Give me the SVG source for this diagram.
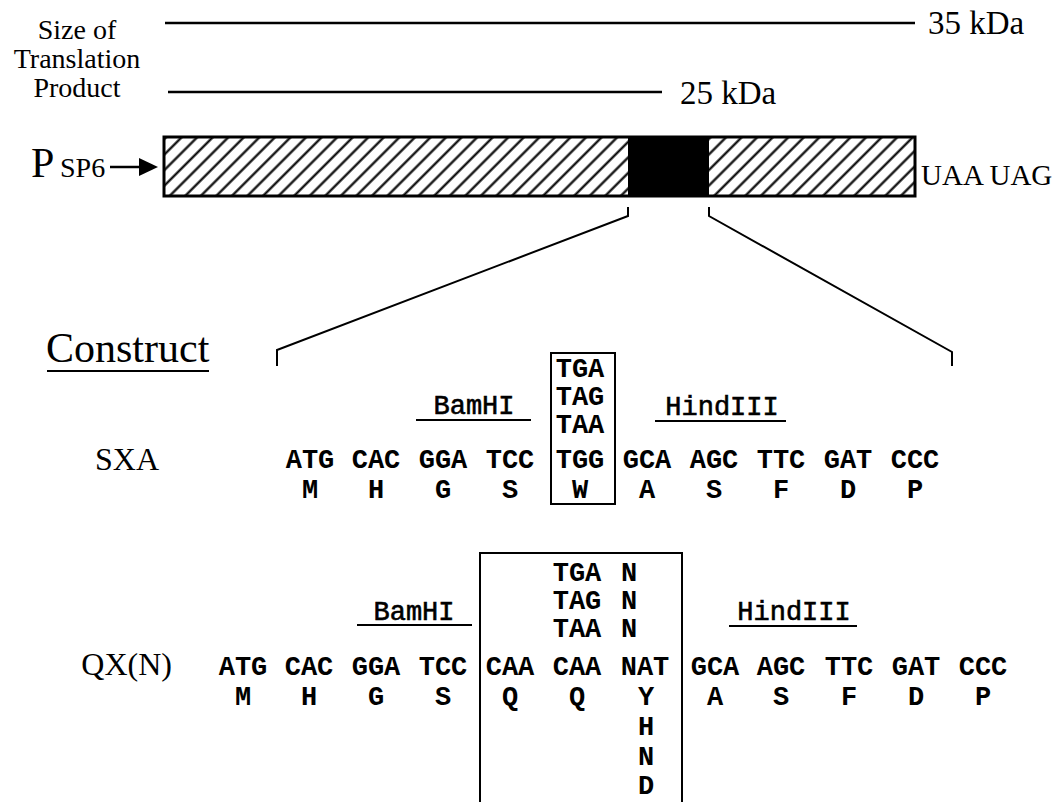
<svg xmlns="http://www.w3.org/2000/svg" width="1056" height="802" viewBox="0 0 1056 802">
<style>
.serif{font-family:"Liberation Serif","Times New Roman",serif;fill:#000}
.cod{font-family:"Liberation Mono","Courier New",monospace;font-weight:bold;font-size:27px;fill:#000;text-anchor:middle}
.codl{font-family:"Liberation Mono","Courier New",monospace;font-weight:bold;font-size:27px;fill:#000}
.re{font-family:"Liberation Mono","Courier New",monospace;font-size:27px;fill:#000;stroke:#000;stroke-width:0.6;text-anchor:middle}
.ln{stroke:#000;stroke-width:2.5;fill:none}
.thin{stroke:#000;stroke-width:2;fill:none}
</style>
<defs>
<pattern id="hatch" width="11" height="11" patternUnits="userSpaceOnUse" patternTransform="rotate(45)">
<line x1="5.5" y1="0" x2="5.5" y2="11" stroke="#000" stroke-width="2.2"/>
</pattern>
</defs>

<g id="size-label">
<text class="serif" x="77" y="39" font-size="28" text-anchor="middle">Size of</text>
<text class="serif" x="77" y="68" font-size="28" text-anchor="middle">Translation</text>
<text class="serif" x="77" y="97" font-size="28" text-anchor="middle">Product</text>
</g>

<g id="size-35">
<line class="ln" x1="165" y1="23" x2="915" y2="23"/>
<text class="serif" x="928" y="34" font-size="33">35 kDa</text>
</g>
<g id="size-25">
<line class="ln" x1="168" y1="92" x2="662" y2="92"/>
<text class="serif" x="680" y="104" font-size="33">25 kDa</text>
</g>

<g id="promoter">
<text class="serif" x="31" y="177" font-size="42">P</text>
<text class="serif" x="60" y="177" font-size="28">SP6</text>
<line class="ln" x1="110" y1="167" x2="142" y2="167"/>
<polygon points="139,158 158,167 139,176" fill="#000"/>
</g>

<g id="gene-bar">
<rect x="164" y="137" width="751" height="59" fill="url(#hatch)" stroke="#000" stroke-width="3"/>
<rect x="628" y="137" width="81" height="59" fill="#000"/>
<text class="serif" x="921" y="185" font-size="29">UAA UAG</text>
</g>

<g id="connectors">
<polyline class="thin" points="628,207 628,216 277,350 277,366"/>
<polyline class="thin" points="709,207 709,216 952,352 952,366"/>
</g>

<g id="construct-title">
<text class="serif" x="46" y="362" font-size="42">Construct</text>
<line class="thin" x1="47" y1="371" x2="209" y2="371"/>
</g>

<g id="sxa">
<text class="serif" x="95" y="470" font-size="32">SXA</text>
<text class="re" x="474" y="414">BamHI</text>
<line class="thin" x1="416" y1="420" x2="531" y2="420"/>
<text class="re" x="722" y="415">HindIII</text>
<line class="thin" x1="655" y1="421" x2="786" y2="421"/>
<rect x="551" y="353" width="64" height="151" class="thin"/>
<text class="cod" x="580" y="377">TGA</text>
<text class="cod" x="580" y="405">TAG</text>
<text class="cod" x="580" y="433">TAA</text>
<text class="cod" x="310" y="468">ATG</text>
<text class="cod" x="376" y="468">CAC</text>
<text class="cod" x="443" y="468">GGA</text>
<text class="cod" x="510" y="468">TCC</text>
<text class="cod" x="580" y="468">TGG</text>
<text class="cod" x="647" y="468">GCA</text>
<text class="cod" x="714" y="468">AGC</text>
<text class="cod" x="781" y="468">TTC</text>
<text class="cod" x="848" y="468">GAT</text>
<text class="cod" x="915" y="468">CCC</text>
<text class="cod" x="310" y="498">M</text>
<text class="cod" x="376" y="498">H</text>
<text class="cod" x="443" y="498">G</text>
<text class="cod" x="510" y="498">S</text>
<text class="cod" x="580" y="498">W</text>
<text class="cod" x="647" y="498">A</text>
<text class="cod" x="714" y="498">S</text>
<text class="cod" x="781" y="498">F</text>
<text class="cod" x="848" y="498">D</text>
<text class="cod" x="915" y="498">P</text>
</g>

<g id="qxn">
<text class="serif" x="172" y="675" font-size="32" text-anchor="end">QX(N)</text>
<text class="re" x="414" y="620">BamHI</text>
<line class="thin" x1="357" y1="625" x2="472" y2="625"/>
<text class="re" x="794" y="620">HindIII</text>
<line class="thin" x1="729" y1="626" x2="857" y2="626"/>
<polyline class="thin" points="480,810 480,553 682,553 682,810"/>
<text class="cod" x="577" y="581">TGA</text>
<text class="cod" x="577" y="609">TAG</text>
<text class="cod" x="577" y="637">TAA</text>
<text class="codl" x="621" y="581">N</text>
<text class="codl" x="621" y="609">N</text>
<text class="codl" x="621" y="637">N</text>
<text class="cod" x="243" y="675">ATG</text>
<text class="cod" x="309" y="675">CAC</text>
<text class="cod" x="376" y="675">GGA</text>
<text class="cod" x="443" y="675">TCC</text>
<text class="cod" x="510" y="675">CAA</text>
<text class="cod" x="577" y="675">CAA</text>
<text class="cod" x="645" y="675">NAT</text>
<text class="cod" x="715" y="675">GCA</text>
<text class="cod" x="781" y="675">AGC</text>
<text class="cod" x="849" y="675">TTC</text>
<text class="cod" x="916" y="675">GAT</text>
<text class="cod" x="983" y="675">CCC</text>
<text class="cod" x="243" y="705">M</text>
<text class="cod" x="309" y="705">H</text>
<text class="cod" x="376" y="705">G</text>
<text class="cod" x="443" y="705">S</text>
<text class="cod" x="510" y="705">Q</text>
<text class="cod" x="577" y="705">Q</text>
<text class="cod" x="646" y="705">Y</text>
<text class="cod" x="646" y="735">H</text>
<text class="cod" x="646" y="765">N</text>
<text class="cod" x="646" y="794">D</text>
<text class="cod" x="715" y="705">A</text>
<text class="cod" x="781" y="705">S</text>
<text class="cod" x="849" y="705">F</text>
<text class="cod" x="916" y="705">D</text>
<text class="cod" x="983" y="705">P</text>
</g>
</svg>
